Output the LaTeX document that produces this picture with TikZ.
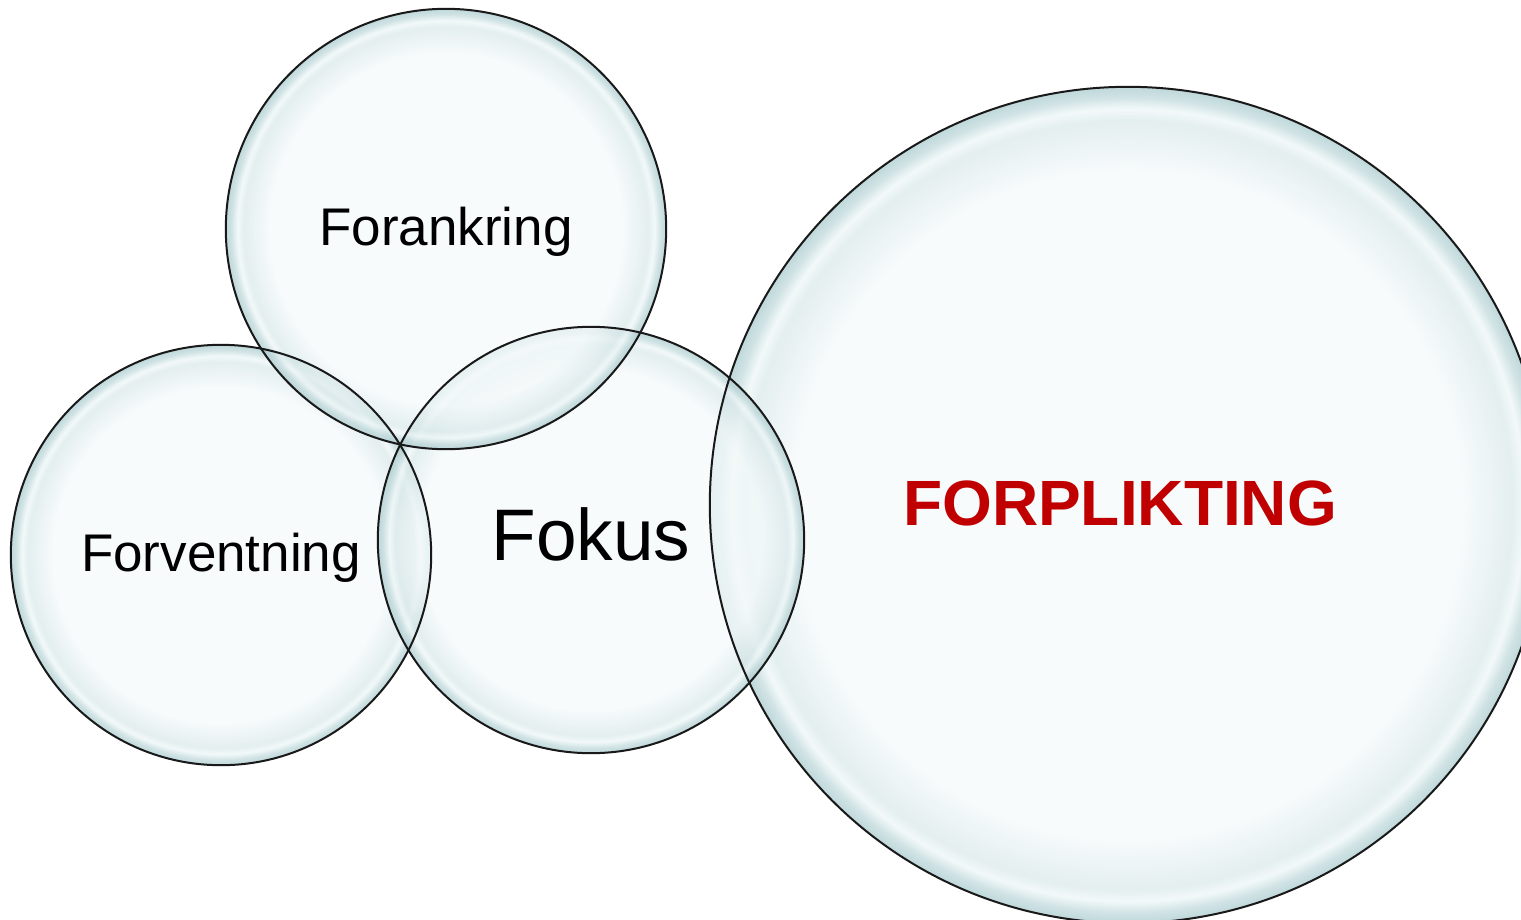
\documentclass[tikz,border=0pt]{standalone}
\usepackage{fontspec}
\setmainfont{Liberation Sans}
\usetikzlibrary{calc}

\definecolor{bubcore}{HTML}{F4F9FA}
\definecolor{bubrim}{HTML}{AACBCE}
\definecolor{bubshine}{HTML}{EEF6F7}
\definecolor{commitred}{HTML}{C00000}
\pgfdeclareradialshading{bubble}{\pgfpoint{0bp}{0bp}}{%
  color(0bp)=(bubcore); color(20bp)=(bubcore); color(23bp)=(bubrim!35!bubcore);
  color(23.7bp)=(bubshine); color(24.4bp)=(bubrim!70!bubcore); color(25bp)=(bubrim); color(50bp)=(bubrim)}

\begin{document}
\begin{tikzpicture}[
    x=1pt, y=-1pt,
    bubble/.style={circle, shading=bubble, inner sep=0pt, fill opacity=0.75},
    rim/.style={draw=black!90, line width=2pt},
    word/.style={font=\fontsize{53}{60}\selectfont}
]
\useasboundingbox (0,0) rectangle (1521,919);
\clip (0,0) rectangle (1521,919);
% bubbles
\node[bubble, minimum size=836pt] (forplikting) at (1128,505) {};
\node[bubble, minimum size=420pt] (forventning) at (221,555) {};
\node[bubble, minimum size=426pt] (fokus) at (591,540) {};
\node[bubble, minimum size=440pt] (forankring) at (446,229) {};
% outlines on top
\foreach \b in {forplikting,forventning,fokus,forankring}
  \draw[rim] let \p1=($(\b.east)-(\b.center)$) in (\b.center) circle[radius=\x1];
% texts
\node[word] (forankring-text) at ([yshift=-3pt]forankring) {Forankring};
\node[word] (forventning-text) at ([yshift=-3pt]forventning) {Forventning};
\node[font=\fontsize{73}{80}\selectfont] (fokus-text) at ([yshift=6pt]fokus) {Fokus};
\node[font=\bfseries\fontsize{64}{70}\selectfont, text=commitred] (forplikting-text) at ([xshift=-8pt,yshift=2pt]forplikting) {FORPLIKTING};
\end{tikzpicture}
\end{document}
